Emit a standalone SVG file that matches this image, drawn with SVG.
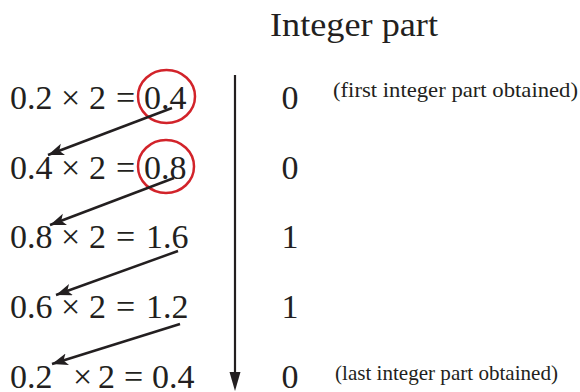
<svg xmlns="http://www.w3.org/2000/svg" width="580" height="392" viewBox="0 0 580 392">
<style>
.eq{font-family:"Liberation Serif","Times New Roman",serif;font-size:34px;fill:#231f20}
.ip{font-family:"Liberation Serif","Times New Roman",serif;font-size:34px;fill:#231f20;text-anchor:middle}
.note{font-family:"Liberation Serif","Times New Roman",serif;font-size:21px;fill:#231f20}
.ttl{font-family:"Liberation Serif","Times New Roman",serif;font-size:34px;fill:#231f20}
.circ{fill:none;stroke:#d2232a;stroke-width:2.5}
.arr{stroke:#231f20;stroke-width:2.5;fill:none;marker-end:url(#ah)}
</style>
<defs>
<marker id="ah" markerUnits="userSpaceOnUse" markerWidth="18" markerHeight="14" refX="16" refY="6" orient="auto">
<path d="M0,0 L16,6 L0,12 L4,6 Z" fill="#231f20"/>
</marker>
</defs>
<rect width="580" height="392" fill="#fff"/>
<g id="title"><text class="ttl" x="270" y="36" textLength="168" lengthAdjust="spacingAndGlyphs">Integer part</text></g>
<g id="row1">
<text class="eq" y="109"><tspan x="10">0.2</tspan><tspan x="61">×</tspan><tspan x="89">2</tspan><tspan x="116">=</tspan><tspan x="144">0.4</tspan></text>
<ellipse class="circ" cx="166.5" cy="96.5" rx="28.5" ry="26.5"/>
<text class="ip" x="290" y="109">0</text>
<text class="note" x="333" y="97" textLength="245" lengthAdjust="spacingAndGlyphs">(first integer part obtained)</text>
</g>
<g id="row2">
<text class="eq" y="179"><tspan x="10">0.4</tspan><tspan x="61">×</tspan><tspan x="89">2</tspan><tspan x="116">=</tspan><tspan x="144">0.8</tspan></text>
<ellipse class="circ" cx="166" cy="166.5" rx="28" ry="26.5"/>
<text class="ip" x="290" y="179">0</text>
</g>
<g id="row3">
<text class="eq" y="248"><tspan x="10">0.8</tspan><tspan x="61">×</tspan><tspan x="89">2</tspan><tspan x="116">=</tspan><tspan x="146">1.6</tspan></text>
<text class="ip" x="290" y="248">1</text>
</g>
<g id="row4">
<text class="eq" y="318"><tspan x="10">0.6</tspan><tspan x="61">×</tspan><tspan x="89">2</tspan><tspan x="116">=</tspan><tspan x="146">1.2</tspan></text>
<text class="ip" x="290" y="318">1</text>
</g>
<g id="row5">
<text class="eq" y="388"><tspan x="10">0.2</tspan><tspan x="73">×</tspan><tspan x="98">2</tspan><tspan x="124">=</tspan><tspan x="152">0.4</tspan></text>
<text class="ip" x="290" y="388">0</text>
<text class="note" x="335" y="380" textLength="223" lengthAdjust="spacingAndGlyphs">(last integer part obtained)</text>
</g>
<g id="connectors">
<line class="arr" x1="172" y1="108" x2="48" y2="155"/>
<line class="arr" x1="174" y1="178" x2="50" y2="225"/>
<line class="arr" x1="178" y1="251" x2="56" y2="295"/>
<line class="arr" x1="180" y1="324" x2="52" y2="364"/>
<line x1="235" y1="75" x2="235" y2="378" stroke="#231f20" stroke-width="2.2"/>
<path d="M229.5,372 L240.5,372 L235,391 Z" fill="#231f20"/>
</g>
</svg>
